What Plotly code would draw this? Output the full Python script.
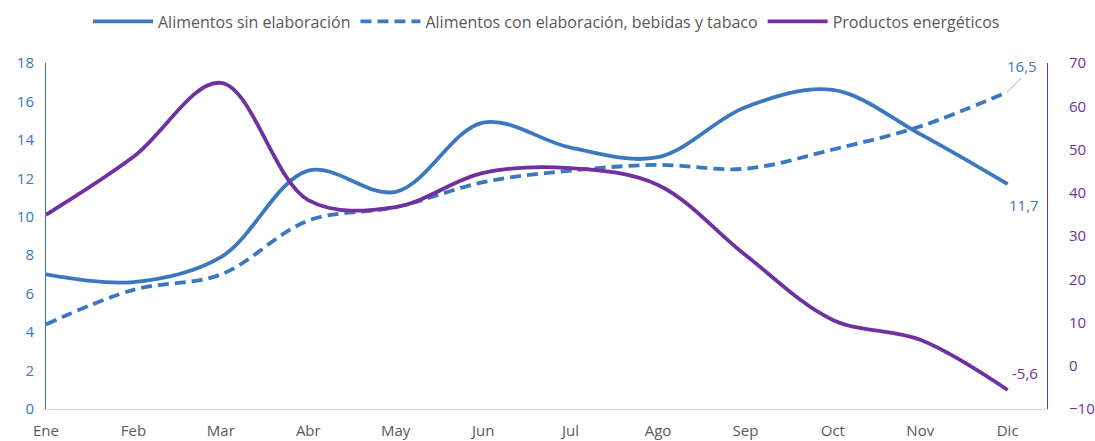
import plotly.graph_objects as go

meses = ["Ene", "Feb", "Mar", "Abr", "May", "Jun", "Jul", "Ago", "Sep", "Oct", "Nov", "Dic"]
sin_elab = [7.0, 6.6, 7.9, 12.4, 11.3, 14.9, 13.6, 13.1, 15.7, 16.6, 14.3, 11.7]
con_elab = [4.4, 6.2, 7.0, 9.8, 10.5, 11.8, 12.4, 12.7, 12.5, 13.5, 14.7, 16.5]
energeticos = [34.9, 48.3, 65.4, 38.3, 36.7, 44.6, 45.7, 41.8, 25.6, 10.6, 6.0, -5.6]

BLUE = "#3C78C0"
PURPLE = "#7030A0"
GREY = "#595959"
FONT = "'Open Sans', sans-serif"

fig = go.Figure()
fig.add_trace(go.Scatter(x=meses, y=sin_elab, name="Alimentos sin elaboración", mode="lines",
                         line=dict(color=BLUE, width=3.8, shape="spline", smoothing=1.0)))
fig.add_trace(go.Scatter(x=meses, y=con_elab, name="Alimentos con elaboración, bebidas y tabaco", mode="lines",
                         line=dict(color=BLUE, width=3.8, dash="11px,6px", shape="spline", smoothing=1.0)))
fig.add_trace(go.Scatter(x=meses, y=energeticos, name="Productos energéticos", mode="lines", yaxis="y2",
                         line=dict(color=PURPLE, width=3.8, shape="spline", smoothing=1.0)))

fig.add_annotation(x=meses[-1], y=con_elab[-1], text="16,5", showarrow=True, arrowhead=0,
                   arrowcolor="#A6A6A6", arrowwidth=1, ax=14, ay=-14,
                   font=dict(color=BLUE, size=15, family=FONT), xanchor="center", yanchor="bottom")
fig.add_annotation(x=meses[-1], y=sin_elab[-1], text="11,7", showarrow=False, xshift=16, yshift=-21,
                   font=dict(color=BLUE, size=15, family=FONT))
fig.add_annotation(x=meses[-1], y=energeticos[-1], yref="y2", text="-5,6", showarrow=False, xshift=17, yshift=17,
                   font=dict(color=PURPLE, size=15, family=FONT))

fig.update_layout(
    width=1095, height=441,
    margin=dict(l=46, r=48, t=63, b=32, autoexpand=False),
    paper_bgcolor="white", plot_bgcolor="white",
    font=dict(family=FONT, color=GREY, size=14),
    showlegend=True,
    legend=dict(orientation="h", x=0.5, xanchor="center", y=0.99, yref="container", yanchor="top",
                font=dict(size=16, color=GREY, family=FONT), traceorder="normal", itemwidth=60),
    xaxis=dict(range=[0, 11.45], showgrid=False, showline=True, linecolor="#D9D9D9", linewidth=1,
               ticks="", ticklabelstandoff=8, tickfont=dict(color=GREY, size=15, family=FONT), zeroline=False),
    yaxis=dict(range=[0, 18], dtick=2, showgrid=False, showline=True, linecolor=BLUE, linewidth=1,
               ticklabelstandoff=8, tickfont=dict(color=BLUE, size=15, family=FONT), zeroline=False, ticks=""),
    yaxis2=dict(range=[-10, 70], dtick=10, overlaying="y", side="right", showgrid=False, showline=True,
                linecolor=PURPLE, linewidth=1, ticklabelstandoff=18, tickfont=dict(color=PURPLE, size=15, family=FONT),
                zeroline=False, ticks=""),
)

fig.write_html("out.html", config={"displayModeBar": False},
               post_script="document.body.style.margin='0';document.body.style.overflow='hidden';")
